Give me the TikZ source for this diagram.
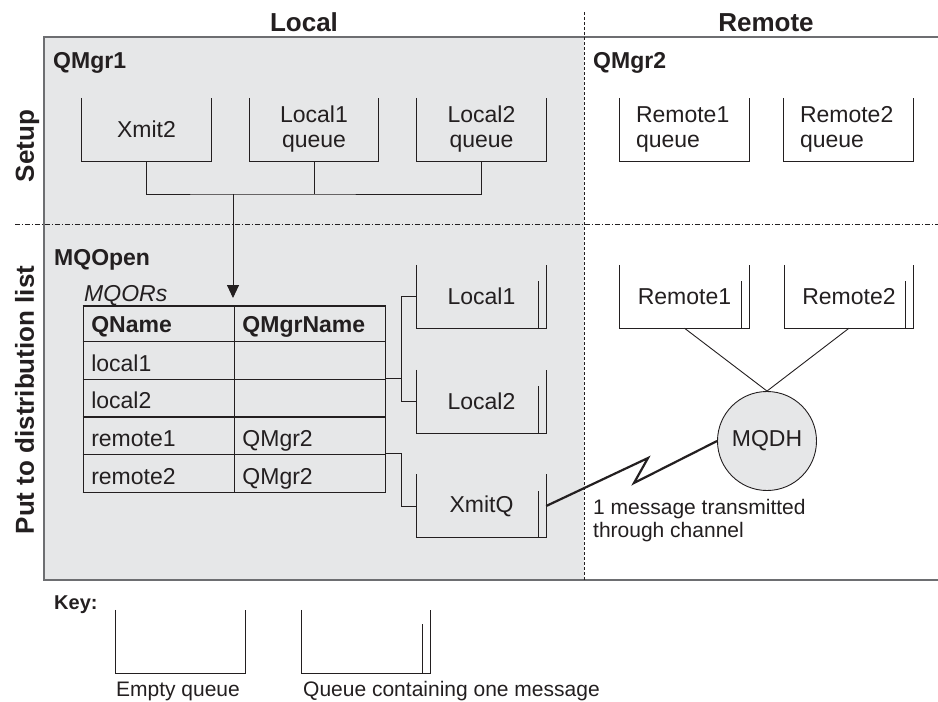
\documentclass[tikz,border=0pt]{standalone}
\usepackage{fontspec}
\setmainfont{Liberation Sans}
\usepackage{xcolor}
\usepackage{array}
\usepackage{tikz}
\usetikzlibrary{positioning}
\usetikzlibrary{arrows.meta, calc}

\definecolor{panelgray}{HTML}{E6E7E8}
\definecolor{ink}{HTML}{231F20}
\definecolor{framegray}{HTML}{6D6E71}

\newcommand{\txtfont}{\fontsize{23}{25}\selectfont}
\newcommand{\capfont}{\fontsize{21}{23}\selectfont}
\newcommand{\headfont}{\fontsize{26}{30}\selectfont\bfseries}
\newcommand{\lblfont}{\fontsize{23}{27}\selectfont\bfseries}
\newcommand{\keyfont}{\fontsize{20}{24}\selectfont\bfseries}

% open-top queue walls, and the one-message bar
\newcommand{\qwall}[1]{\draw[qline] (#1.north west) |- (#1.south east) -- (#1.north east);}
\newcommand{\qmsg}[1]{\draw[qline] ([xshift=-8pt]#1.south east) -- ++(0,47);}

\tikzset{
  queue/.style={minimum width=129pt, minimum height=63pt, inner sep=0pt, align=center, font=\txtfont},
  rqueue/.style={queue, text width=97pt, align=left},
  qline/.style={draw=ink, line width=0.9pt},
  link/.style={draw=ink, line width=0.9pt},
  frame/.style={draw=framegray, line width=1.4pt},
  sepdash/.style={draw=ink, line width=0.8pt, dash pattern=on 3pt off 2pt},
  sepdashdot/.style={draw=ink, line width=0.8pt, dash pattern=on 5pt off 2pt on 1pt off 2pt},
  lbl/.style={inner sep=0pt, anchor=base west},
  hdr/.style={inner sep=0pt, anchor=base, font=\headfont},
  bolt/.style={draw=ink, line width=2.2pt},
}

\begin{document}
\begin{tikzpicture}[x=1pt, y=1pt, every node/.style={text=ink}]
    \useasboundingbox (0,0) rectangle (938,-702);

    % panels
    \fill[panelgray] (44,-37) rectangle (584,-580);
    \draw[frame] (938,-37) -- (44,-37) -- (44,-580) -- (938,-580);
    \draw[sepdash] (584,-12) -- (584,-580);
    \draw[sepdashdot] (15,-224) -- (938,-224);

    \node[hdr] (localhd) at (304,-31.5) {Local};
    \node[hdr] (remotehd) at (766,-31.5) {Remote};
    \node[hdr, rotate=90] (setuphd) at (34,-146) {Setup};
    \node[hdr, rotate=90] (puthd) at (34,-400) {Put to distribution list};

    \begin{scope}
        \node[lbl, font=\lblfont] (qmgr1) at (53,-68) {QMgr1};
        \node[queue] (xmit2) at (146.5,-129.5) {Xmit2};
        \node[queue] (lq1) at (314,-129.5) {Local1\\queue};
        \node[queue] (lq2) at (481.5,-129.5) {Local2\\queue};
        \qwall{xmit2} \qwall{lq1} \qwall{lq2}
        \coordinate (bus) at (233,-194);
        \coordinate (tabtop) at (233,-298);
        \draw[link] (xmit2.south) |- (bus) -| (lq2.south);
        \draw[link] (lq1.south) -- (lq1.south |- bus);
        \draw[link, -{Triangle[width=12pt, length=13pt]}] (bus) -- (tabtop);
    \end{scope}

    \begin{scope}
        \node[lbl, font=\lblfont] (qmgr2) at (593,-68) {QMgr2};
        \node[rqueue] (rq1) at (684.5,-129.5) {Remote1\\queue};
        \node[rqueue] (rq2) at (848.5,-129.5) {Remote2\\queue};
        \qwall{rq1} \qwall{rq2}
    \end{scope}

    \begin{scope}
        \node[lbl, font=\lblfont] (mqopen) at (54,-265) {MQOpen};
        \node[lbl, font=\txtfont\itshape] (mqorslbl) at (84,-301.5) {MQORs};
        \node[anchor=north west, inner sep=0pt, font=\txtfont] (mqors) at (82.4,-305.1) {%
            \setlength{\arrayrulewidth}{1.2pt}\setlength{\tabcolsep}{7.5pt}%
            \begin{tabular}{|p{135pt}|p{134.6pt}|}
                \hline
                \rule[-8.5pt]{0pt}{34.5pt}\textbf{QName} & \textbf{QMgrName} \\
                \hline
                \rule[-7.5pt]{0pt}{36.5pt}local1 & \\
                \hline
                \rule[-7.5pt]{0pt}{36.5pt}local2 & \\
                \hline
                \rule[-7.5pt]{0pt}{36.5pt}remote1 & QMgr2 \\
                \hline
                \rule[-7.5pt]{0pt}{36.5pt}remote2 & QMgr2 \\
                \hline
            \end{tabular}};
        \node[queue] (l1) at (481.5,-296.5) {Local1};
        \node[queue] (l2) at (481.5,-401.5) {Local2};
        \node[queue] (xq) at (481.5,-506) {XmitQ};
        \qwall{l1} \qwall{l2} \qwall{xq}
        \qmsg{l1} \qmsg{l2} \qmsg{xq}
        \coordinate (tap1) at ($(mqors.north east)+(0,-73)$);
        \coordinate (tap2) at ($(mqors.north east)+(0,-148.6)$);
        \draw[link] (tap1) -| ([xshift=-15pt]l1.west) -- (l1.west);
        \draw[link] ([xshift=-15pt]l1.west) |- (l2.west);
        \draw[link] (tap2) -| ([xshift=-15pt]xq.west) -- (xq.west);
    \end{scope}

    \begin{scope}
        \node[queue] (r1) at (684.5,-296.5) {Remote1};
        \node[queue] (r2) at (849,-296.5) {Remote2};
        \qwall{r1} \qwall{r2}
        \qmsg{r1} \qmsg{r2}
        \node[circle, draw=ink, line width=0.9pt, fill=panelgray, minimum size=99pt, inner sep=0pt, font=\txtfont] (mqdh) at (767,-441) {MQDH};
        \draw[link] (r1.south) -- (mqdh.north);
        \draw[link] (r2.south) -- (mqdh.north);
        \draw[bolt] (xq.east) -- (648,-458) -- (634,-483) -- (mqdh.west);
        \node[anchor=west, inner sep=0pt, align=left, font=\capfont] (chan) at (593,-521) {1 message transmitted\\through channel};
    \end{scope}

    % key
    \node[lbl, font=\keyfont] (key) at (54,-609.5) {Key:};
    \node[queue] (emptyq) at (180.5,-641.5) {};
    \node[queue] (fullq) at (366,-641.5) {};
    \qwall{emptyq} \qwall{fullq}
    \draw[qline] ([xshift=-8pt]fullq.south east) -- ++(0,49);
    \node[anchor=base, inner sep=0pt, font=\capfont] (emptycap) at (178,-696) {Empty queue};
    \node[lbl, font=\capfont] (fullcap) at (303,-696) {Queue containing one message};
\end{tikzpicture}
\end{document}
